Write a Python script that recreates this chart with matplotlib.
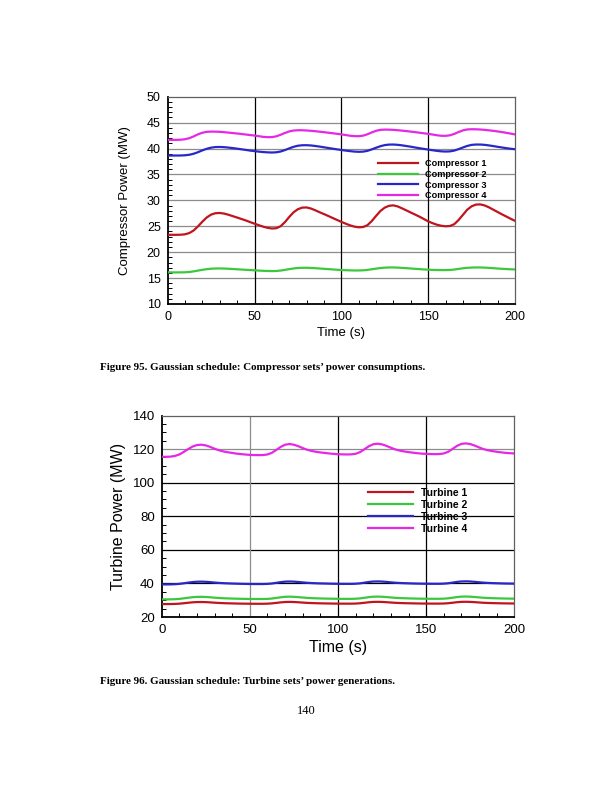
import matplotlib
matplotlib.use("Agg")
import matplotlib.pyplot as plt
from matplotlib.ticker import MultipleLocator

# ---------------- data ----------------
time_s = [i * 2.5 for i in range(81)]

compressor_1 = [23.35, 23.35, 23.35, 23.37, 23.45, 23.7, 24.2, 25.0, 25.9, 26.7,
                27.25, 27.52, 27.56, 27.45, 27.22, 26.95, 26.68, 26.4, 26.12, 25.8,
                25.5, 25.2, 24.92, 24.7, 24.57, 24.62, 25.0, 25.8, 26.8, 27.7,
                28.3, 28.6, 28.63, 28.42, 28.08, 27.7, 27.35, 26.98, 26.6, 26.22,
                25.85, 25.5, 25.18, 24.93, 24.8, 24.85, 25.2, 26.0, 27.0, 27.95,
                28.6, 28.95, 29.03, 28.82, 28.45, 28.05, 27.65, 27.25, 26.85, 26.4,
                25.95, 25.6, 25.3, 25.1, 25.0, 25.05, 25.4, 26.2, 27.2, 28.2,
                28.85, 29.18, 29.22, 29.02, 28.65, 28.2, 27.75, 27.3, 26.88, 26.45,
                26.05]
compressor_2 = [16.1, 16.1, 16.1, 16.1, 16.12, 16.18, 16.3, 16.45, 16.6, 16.72,
                16.81, 16.85, 16.86, 16.84, 16.8, 16.75, 16.7, 16.65, 16.6, 16.55,
                16.5, 16.45, 16.4, 16.37, 16.35, 16.37, 16.45, 16.58, 16.73, 16.86,
                16.95, 16.99, 16.99, 16.96, 16.91, 16.85, 16.79, 16.73, 16.67, 16.61,
                16.56, 16.52, 16.49, 16.47, 16.47, 16.5, 16.58, 16.7, 16.83, 16.94,
                17.01, 17.05, 17.05, 17.02, 16.97, 16.91, 16.85, 16.79, 16.73, 16.67,
                16.62, 16.58, 16.56, 16.54, 16.54, 16.57, 16.65, 16.77, 16.89, 16.98,
                17.03, 17.05, 17.05, 17.02, 16.97, 16.91, 16.85, 16.79, 16.74, 16.7,
                16.67]
compressor_3 = [38.65, 38.65, 38.65, 38.66, 38.7, 38.8, 39.0, 39.3, 39.65, 39.95,
                40.17, 40.28, 40.3, 40.26, 40.18, 40.08, 39.97, 39.85, 39.73, 39.6,
                39.5, 39.4, 39.32, 39.26, 39.23, 39.27, 39.42, 39.7, 40.03, 40.33,
                40.54, 40.63, 40.64, 40.59, 40.49, 40.37, 40.24, 40.1, 39.97, 39.84,
                39.72, 39.6, 39.5, 39.41, 39.37, 39.4, 39.55, 39.83, 40.15, 40.45,
                40.66, 40.76, 40.77, 40.71, 40.61, 40.48, 40.35, 40.2, 40.06, 39.93,
                39.8, 39.67, 39.55, 39.46, 39.42, 39.45, 39.6, 39.88, 40.2, 40.5,
                40.7, 40.77, 40.77, 40.71, 40.6, 40.47, 40.33, 40.2, 40.07, 39.96,
                39.87]
compressor_4 = [41.67, 41.67, 41.67, 41.7, 41.8, 42.0, 42.35, 42.75, 43.05, 43.22,
                43.27, 43.26, 43.22, 43.15, 43.07, 42.98, 42.9, 42.8, 42.7, 42.6,
                42.5, 42.38, 42.25, 42.19, 42.2, 42.35, 42.65, 43.0, 43.3, 43.47,
                43.53, 43.52, 43.48, 43.42, 43.34, 43.25, 43.15, 43.05, 42.95, 42.84,
                42.73, 42.6, 42.47, 42.39, 42.38, 42.48, 42.75, 43.1, 43.42, 43.6,
                43.65, 43.64, 43.6, 43.53, 43.45, 43.36, 43.26, 43.16, 43.05, 42.94,
                42.83, 42.7, 42.56, 42.46, 42.45, 42.55, 42.82, 43.18, 43.5, 43.68,
                43.72, 43.71, 43.67, 43.6, 43.51, 43.41, 43.3, 43.17, 43.03, 42.88,
                42.72]

turbine_1 = [27.7, 27.7, 27.72, 27.79, 27.94, 28.19, 28.48, 28.74, 28.89, 28.92,
             28.86, 28.7, 28.52, 28.36, 28.24, 28.16, 28.09, 28.02, 27.97, 27.93,
             27.9, 27.88, 27.87, 27.88, 27.94, 28.11, 28.4, 28.7, 28.92, 28.99,
             28.92, 28.77, 28.58, 28.41, 28.3, 28.21, 28.14, 28.09, 28.04, 28.0,
             27.96, 27.95, 27.94, 27.95, 28.01, 28.18, 28.47, 28.77, 28.98, 29.03,
             28.96, 28.81, 28.62, 28.45, 28.33, 28.24, 28.18, 28.12, 28.07, 28.02,
             28.0, 27.98, 27.97, 27.98, 28.04, 28.21, 28.5, 28.81, 29.01, 29.06,
             28.99, 28.84, 28.65, 28.48, 28.36, 28.28, 28.21, 28.15, 28.1, 28.07,
             28.04]
turbine_2 = [30.5, 30.5, 30.52, 30.61, 30.79, 31.11, 31.47, 31.78, 31.97, 32.01,
             31.93, 31.74, 31.51, 31.32, 31.17, 31.07, 30.98, 30.9, 30.84, 30.78,
             30.74, 30.72, 30.71, 30.72, 30.79, 31.0, 31.36, 31.74, 32.01, 32.1,
             32.01, 31.82, 31.59, 31.38, 31.24, 31.13, 31.05, 30.98, 30.92, 30.87,
             30.83, 30.8, 30.79, 30.8, 30.88, 31.09, 31.45, 31.82, 32.08, 32.14,
             32.05, 31.87, 31.63, 31.42, 31.28, 31.17, 31.09, 31.01, 30.95, 30.9,
             30.87, 30.85, 30.84, 30.85, 30.92, 31.13, 31.49, 31.87, 32.12, 32.18,
             32.1, 31.91, 31.68, 31.47, 31.32, 31.21, 31.13, 31.06, 30.99, 30.95,
             30.92]
turbine_3 = [39.4, 39.4, 39.42, 39.52, 39.72, 40.07, 40.46, 40.8, 41.01, 41.06,
             40.96, 40.76, 40.5, 40.3, 40.14, 40.02, 39.93, 39.84, 39.77, 39.71,
             39.66, 39.64, 39.63, 39.64, 39.72, 39.95, 40.34, 40.76, 41.06, 41.15,
             41.06, 40.85, 40.6, 40.37, 40.2, 40.09, 40.0, 39.93, 39.86, 39.8,
             39.76, 39.73, 39.72, 39.73, 39.81, 40.04, 40.44, 40.85, 41.13, 41.19,
             41.1, 40.9, 40.64, 40.41, 40.25, 40.14, 40.04, 39.96, 39.89, 39.84,
             39.8, 39.78, 39.77, 39.78, 39.86, 40.09, 40.48, 40.9, 41.17, 41.24,
             41.15, 40.94, 40.69, 40.46, 40.3, 40.18, 40.09, 40.01, 39.94, 39.89,
             39.86]
turbine_4 = [115.4, 115.4, 115.5, 115.9, 116.8, 118.3, 120.0, 121.5, 122.4, 122.6,
             122.2, 121.3, 120.2, 119.3, 118.6, 118.1, 117.7, 117.3, 117.0, 116.75,
             116.55, 116.45, 116.4, 116.45, 116.8, 117.8, 119.5, 121.3, 122.6, 123.0,
             122.6, 121.7, 120.6, 119.6, 118.9, 118.4, 118.0, 117.7, 117.4, 117.15,
             116.95, 116.85, 116.8, 116.85, 117.2, 118.2, 119.9, 121.7, 122.9, 123.2,
             122.8, 121.9, 120.8, 119.8, 119.1, 118.6, 118.2, 117.85, 117.55, 117.3,
             117.15, 117.05, 117.0, 117.05, 117.4, 118.4, 120.1, 121.9, 123.1, 123.4,
             123.0, 122.1, 121.0, 120.0, 119.3, 118.8, 118.4, 118.05, 117.75, 117.55,
             117.4]

compressor_labels = ["Compressor 1", "Compressor 2", "Compressor 3", "Compressor 4"]
turbine_labels = ["Turbine 1", "Turbine 2", "Turbine 3", "Turbine 4"]
caption_95 = "Figure 95. Gaussian schedule: Compressor sets\u2019 power consumptions."
caption_96 = "Figure 96. Gaussian schedule: Turbine sets\u2019 power generations."
page_number = "140"

colors = ["#c0141e", "#3cc83c", "#2828c8", "#e628e6"]

# ---------------- figure ----------------
plt.rcParams["font.family"] = ["Liberation Sans", "DejaVu Sans"]
fig = plt.figure(figsize=(6.12, 7.92), dpi=100)

W, H = 612.0, 792.0

def axes_box(x0, x1, ytop, ybot):
    return [x0 / W, 1 - ybot / H, (x1 - x0) / W, (ybot - ytop) / H]

def style_axes(ax, ylo, yhi, ymaj, ymin, tick_fs, hgrid_colors, vgrid_colors):
    ax.set_xlim(0, 200)
    ax.set_ylim(ylo, yhi)
    ax.xaxis.set_major_locator(MultipleLocator(50))
    ax.xaxis.set_minor_locator(MultipleLocator(10))
    ax.yaxis.set_major_locator(MultipleLocator(ymaj))
    ax.yaxis.set_minor_locator(MultipleLocator(ymin))
    ax.tick_params(which="both", direction="in", top=False, right=False)
    ax.tick_params(which="major", length=0, labelsize=tick_fs, pad=5)
    ax.tick_params(which="minor", length=3, width=0.7)
    for v, c in hgrid_colors.items():
        ax.axhline(v, color=c, lw=0.9, zorder=1)
    for v, c in vgrid_colors.items():
        ax.axvline(v, color=c, lw=0.9, zorder=1)
    ax.spines["left"].set_linewidth(1.3)
    ax.spines["bottom"].set_linewidth(1.3)
    ax.spines["top"].set_color("#606060")
    ax.spines["right"].set_color("#606060")
    ax.spines["top"].set_linewidth(0.9)
    ax.spines["right"].set_linewidth(0.9)

# ---- top chart ----
ax1 = fig.add_axes(axes_box(167.7, 515, 96.7, 304))
for series, lab, col in zip([compressor_1, compressor_2, compressor_3, compressor_4],
                            compressor_labels, colors):
    ax1.plot(time_s, series, color=col, lw=1.6, label=lab, zorder=3)
style_axes(ax1, 10, 50, 5, 1, 9,
           {v: "#8c8c8c" for v in [15, 20, 25, 30, 35, 40, 45]},
           {v: "black" for v in [50, 100, 150]})
ax1.set_xlabel("Time (s)", fontsize=9.5, labelpad=3)
ax1.set_ylabel("Compressor Power (MW)", fontsize=9.5, labelpad=11)
leg1 = ax1.legend(loc="upper left", bbox_to_anchor=(0.605, 0.700), frameon=False,
                  borderpad=0, borderaxespad=0, handlelength=4.4, handletextpad=0.75,
                  labelspacing=0.2, prop={"size": 6.6, "weight": "bold"})

# ---- bottom chart ----
ax2 = fig.add_axes(axes_box(161.7, 514.3, 415.5, 617))
for series, lab, col in zip([turbine_1, turbine_2, turbine_3, turbine_4],
                            turbine_labels, colors):
    ax2.plot(time_s, series, color=col, lw=1.6, label=lab, zorder=3)
style_axes(ax2, 20, 140, 20, 5, 9.5,
           {40: "black", 60: "black", 80: "black", 100: "black", 120: "#8c8c8c"},
           {50: "#8c8c8c", 100: "black", 150: "black"})
ax2.set_xlabel("Time (s)", fontsize=11.5, labelpad=3)
ax2.set_ylabel("Turbine Power (MW)", fontsize=11.5, labelpad=5)
leg2 = ax2.legend(loc="upper left", bbox_to_anchor=(0.585, 0.640), frameon=False,
                  borderpad=0, borderaxespad=0, handlelength=4.3, handletextpad=0.75,
                  labelspacing=0.18, prop={"size": 7.5, "weight": "bold"})

# ---- captions ----
serif = ["Liberation Serif", "DejaVu Serif"]
fig.text(100 / W, 1 - 368 / H, caption_95, family=serif, fontsize=7.9,
         fontweight="bold", ha="left", va="center")
fig.text(100 / W, 1 - 682 / H, caption_96, family=serif, fontsize=7.9,
         fontweight="bold", ha="left", va="center")
fig.text(306 / W, 1 - 711 / H, page_number, family=serif, fontsize=9,
         ha="center", va="center")

fig.savefig("out.png", dpi=100)
